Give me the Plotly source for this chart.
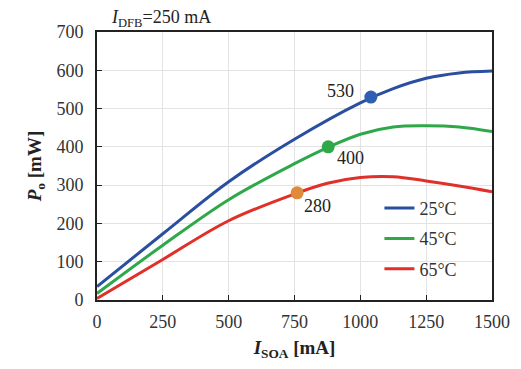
import plotly.graph_objects as go

current_25 = [0, 250, 500, 750, 1000, 1125, 1250, 1375, 1500]
p_25c = [35, 173, 309, 420, 515, 552, 579, 593, 598]
current_45 = [0, 250, 500, 750, 875, 1000, 1125, 1250, 1375, 1500]
p_45c = [17, 143, 262, 356, 398, 433, 452, 455, 452, 440]
current_65 = [0, 250, 500, 750, 875, 1000, 1125, 1250, 1375, 1500]
p_65c = [4, 106, 207, 277, 305, 320, 322, 311, 298, 283]
series_names = ["25°C", "45°C", "65°C"]
series_colors = ["#2a4fa0", "#2fa84a", "#e0302a"]

mark_x = [1040, 878, 760]
mark_y = [530, 400, 280]
mark_labels = ["530", "400", "280"]
mark_colors = ["#2f5fb3", "#2fa84a", "#e08a3c"]

x_ticks = [0, 250, 500, 750, 1000, 1250, 1500]
y_ticks = [0, 100, 200, 300, 400, 500, 600, 700]

font_fam = "Liberation Serif"
fig = go.Figure()
for name, xs, ys, col in zip(series_names, [current_25, current_45, current_65],
                             [p_25c, p_45c, p_65c], series_colors):
    fig.add_trace(go.Scatter(x=xs, y=ys, mode="lines", name=name,
                             line=dict(color=col, width=3, shape="spline", smoothing=1.0),
                             legendgroup=name))

fig.add_trace(go.Scatter(x=mark_x, y=mark_y, mode="markers", showlegend=False,
                         marker=dict(color=mark_colors, size=13)))

offsets = [(-30, -6), (22, 11), (20, 13)]
for x, y, t, (ax, ay) in zip(mark_x, mark_y, mark_labels, offsets):
    fig.add_annotation(x=x, y=y, text=t, showarrow=True, arrowcolor="rgba(0,0,0,0)",
                       ax=ax, ay=ay, font=dict(family=font_fam, size=18, color="#222"))

fig.add_annotation(xref="paper", yref="paper", x=0.03, y=1.0, yanchor="bottom", xanchor="left",
                   text="<i>I</i><sub>DFB</sub>=250 mA", showarrow=False,
                   font=dict(family=font_fam, size=18, color="#222"))

axis_common = dict(showline=True, linecolor="#222", linewidth=2, mirror=True,
                   showgrid=True, gridcolor="#e3e3e3", gridwidth=1, automargin=False,
                   ticks="inside", ticklen=5, tickcolor="#222", zeroline=False,
                   tickfont=dict(family=font_fam, size=18, color="#333"))
fig.update_xaxes(range=[0, 1500], tickvals=x_ticks, ticklabelstandoff=4, **axis_common,
                 title=dict(text="<b><i>I</i><sub>SOA</sub> [mA]</b>",
                            font=dict(family=font_fam, size=19, color="#222"), standoff=15))
fig.update_yaxes(range=[0, 700], tickvals=y_ticks, ticklabelstandoff=8, **axis_common,
                 title=dict(text="<b><i>P</i><sub>o</sub> [mW]</b>",
                            font=dict(family=font_fam, size=19, color="#222"), standoff=10))

fig.update_layout(width=505, height=353, margin=dict(l=89, r=21, t=24, b=61),
                  plot_bgcolor="white", paper_bgcolor="white",
                  legend=dict(x=0.715, y=0.411, xanchor="left", yanchor="top",
                              bgcolor="rgba(0,0,0,0)", tracegroupgap=4,
                              font=dict(family=font_fam, size=18, color="#333")))
fig.write_html("out.html")
